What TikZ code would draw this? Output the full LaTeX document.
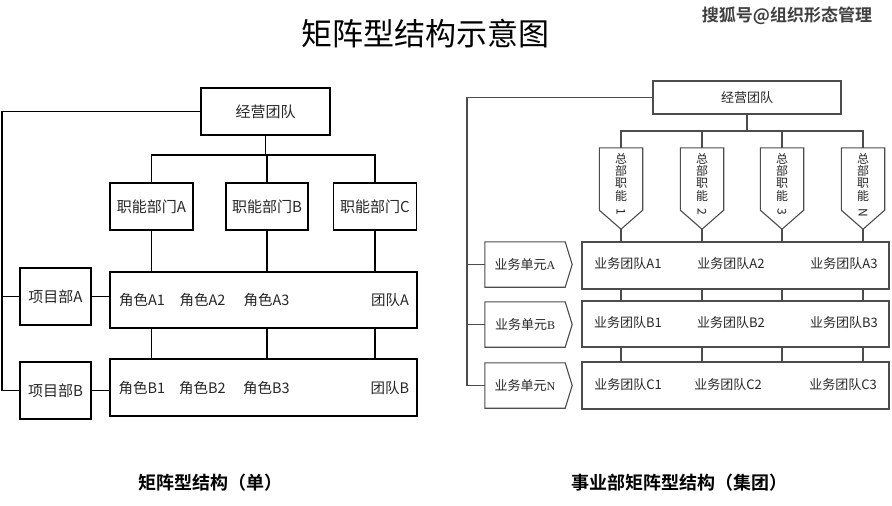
\documentclass[tikz,border=0pt]{standalone}
\usepackage{fontspec}
\setmainfont{Noto Sans CJK SC}
\newfontfamily\cjk{Noto Sans CJK SC}
\newfontfamily\cjkb{Noto Sans CJK SC Bold}
\usetikzlibrary{calc}
\tikzset{
  thickbox/.style={draw=black, line width=1.7pt, inner sep=0pt, font=\fontsize{15}{17}\selectfont, text=black!85},
  thinbox/.style={draw=black!70, line width=1.1pt, inner sep=0pt, font=\fontsize{13}{15}\selectfont, text=black!85},
  thickline/.style={draw=black, line width=1.7pt},
  thinline/.style={draw=black!70, line width=1.1pt},
  rowtxt/.style={inner sep=0pt, font=\fontsize{14.5}{16}\selectfont, text=black!85},
  teamtxt/.style={inner sep=0pt, font=\fontsize{13}{15}\selectfont, text=black!85},
  ghost/.style={draw=none, inner sep=0pt},
  vtxt/.style={inner sep=0pt, align=center, font=\fontsize{12}{12.3}\selectfont, text=black!85},
}
\begin{document}
\begin{tikzpicture}[x=1pt,y=-1pt]
\useasboundingbox (0,0) rectangle (892,506);
\fill[white] (0,0) rectangle (892,506);

% titles
\node[inner sep=0pt, font=\fontsize{31}{33}\selectfont] (title) at (425,34) {矩阵型结构示意图};
\node[inner sep=0pt, font=\cjkb\fontsize{17}{19}\selectfont, text=black!75] (wm) at (787,16) {搜狐号@组织形态管理};
\node[inner sep=0pt, font=\cjkb\fontsize{18}{20}\selectfont] (cap1) at (210,483) {矩阵型结构（单）};
\node[inner sep=0pt, font=\cjkb\fontsize{18}{20}\selectfont] (cap2) at (679,483) {事业部矩阵型结构（集团）};

% ---------- left diagram ----------
\node[thickbox, minimum width=129pt, minimum height=47pt] (L0) at (265.5,111.5) {经营团队};
\node[thickbox, minimum width=83pt, minimum height=47pt] (fA) at (151.5,206.5) {职能部门A};
\node[thickbox, minimum width=82pt, minimum height=47pt] (fB) at (267,206.5) {职能部门B};
\node[thickbox, minimum width=83pt, minimum height=47pt] (fC) at (375,206.5) {职能部门C};
\node[thickbox, minimum width=307pt, minimum height=56pt] (RA) at (263.5,300) {};
\node[thickbox, minimum width=307pt, minimum height=57pt] (RB) at (263.5,387.5) {};
\node[thickbox, minimum width=71pt, minimum height=57pt] (PA) at (55.5,296.5) {项目部A};
\node[thickbox, minimum width=71pt, minimum height=57pt] (PB) at (55.5,390.5) {项目部B};

\node[rowtxt] (ra1) at (142,300) {角色A1};
\node[rowtxt] (ra2) at (202.5,300) {角色A2};
\node[rowtxt] (ra3) at (266.5,300) {角色A3};
\node[rowtxt] (ra4) at (390,300) {团队A};
\node[rowtxt] (rb1) at (142,388) {角色B1};
\node[rowtxt] (rb2) at (202.5,388) {角色B2};
\node[rowtxt] (rb3) at (266.5,388) {角色B3};
\node[rowtxt] (rb4) at (390,388) {团队B};

\coordinate (busL) at (0,155);
\coordinate (lx) at (2,0);
\draw[thickline] (L0.south) -- (busL -| L0.south);
\draw[thickline] (fA.north) |- (busL -| fC.north) -- (fC.north);
\draw[thickline] (fB.north) -- (busL -| fB.north);
\foreach \f in {fA,fB,fC}{
  \draw[thickline] (\f.south) -- (\f.south |- RA.north);
  \draw[thickline] (RA.south -| \f.south) -- (RB.north -| \f.south);
}
\draw[thickline] (L0.west) -| (lx |- PB.west) -- (PB.west);
\draw[thickline] (PA.west) -- (PA.west -| lx);
\draw[thickline] (PA.east) -- (PA.east -| RA.west);
\draw[thickline] (PB.east) -- (PB.east -| RB.west);

% ---------- right diagram ----------
\node[thinbox, minimum width=188pt, minimum height=33pt] (R0) at (747,97.5) {经营团队};
\foreach \n/\x/\d in {f1/621/1,f2/702/2,f3/782/3,f4/863/N}{
  \node[ghost, minimum width=43pt, minimum height=81pt] (\n) at (\x,188.5) {};
  \draw[thinline] (\n.north west) -- (\n.north east) -- ($(\n.south east)+(0,-19)$) -- (\n.south) -- ($(\n.south west)+(0,-19)$) -- cycle;
  \node[vtxt, anchor=north] (\n t) at (\x,153) {总\\部\\职\\能\\[-3.5pt]\rotatebox{-90}{\d}};
}
\node[thinbox, minimum width=307pt, minimum height=47pt] (QA) at (735.5,265.5) {};
\node[thinbox, minimum width=307pt, minimum height=46pt] (QB) at (735.5,324) {};
\node[thinbox, minimum width=307pt, minimum height=47pt] (QN) at (735.5,385.5) {};

\foreach \n/\y/\l in {UA/264.5/A,UB/324.5/B,UN/385.5/N}{
  \node[ghost, minimum width=87pt, minimum height=45pt] (\n) at (528.5,\y) {};
  \draw[thinline] (\n.north west) -- ($(\n.north east)+(-7,0)$) -- (\n.east) -- ($(\n.south east)+(-7,0)$) -- (\n.south west) -- cycle;
  \node[teamtxt] (\n t) at (525,\y) {业务单元{\fontspec{Liberation Serif}\fontsize{12}{14}\selectfont\l}};
}

\foreach \r/\y/\c/\xa/\xb/\xc in {QA/264/A/628/731/844, QB/323/B/628/731/844, QN/385/C/628/728/843}{
  \node[teamtxt] (\r 1) at (\xa,\y) {业务团队\c1};
  \node[teamtxt] (\r 2) at (\xb,\y) {业务团队\c2};
  \node[teamtxt] (\r 3) at (\xc,\y) {业务团队\c3};
}

\coordinate (busR) at (0,131);
\coordinate (rx) at (467,0);
\draw[thinline] (R0.south) -- (busR -| R0.south);
\draw[thinline] (f1.north) |- (busR -| f4.north) -- (f4.north);
\draw[thinline] (f2.north) -- (busR -| f2.north);
\draw[thinline] (f3.north) -- (busR -| f3.north);
\foreach \f in {f1,f2,f3,f4}{
  \draw[thinline] (\f.south) -- (\f.south |- QA.north);
  \draw[thinline] (QA.south -| \f.south) -- (QB.north -| \f.south);
  \draw[thinline] (QB.south -| \f.south) -- (QN.north -| \f.south);
}
\draw[thinline] (R0.west) -| (rx |- UN.west) -- (UN.west);
\draw[thinline] (UA.west) -- (UA.west -| rx);
\draw[thinline] (UB.west) -- (UB.west -| rx);
\end{tikzpicture}
\end{document}
